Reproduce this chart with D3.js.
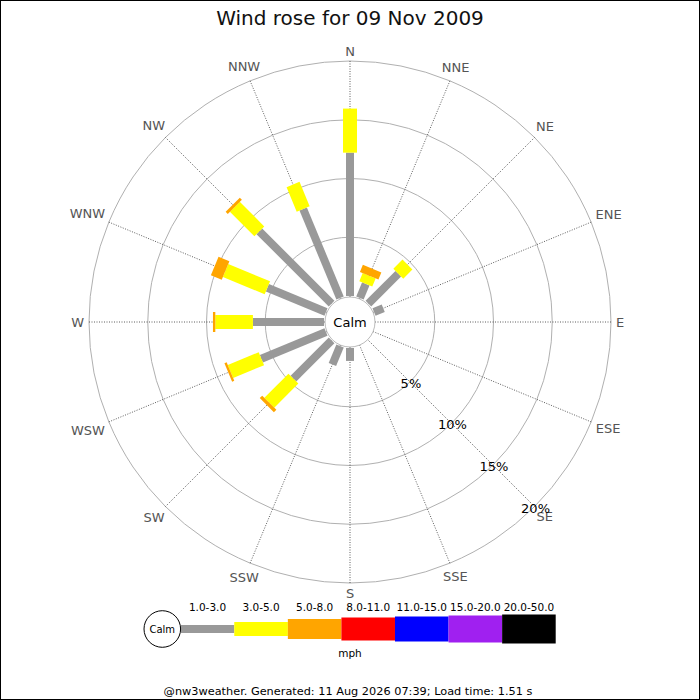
<!DOCTYPE html>
<html>
<head>
<meta charset="utf-8">
<script src="https://cdn.jsdelivr.net/npm/d3@7"></script>
<style>
  body { margin: 0; background: #fff; }
  text { font-family: "DejaVu Sans", sans-serif; }
</style>
</head>
<body>
<div id="chart"></div>
<script>
const directions = ['N', 'NNE', 'NE', 'ENE', 'E', 'ESE', 'SE', 'SSE',
  'S', 'SSW', 'SW', 'WSW', 'W', 'WNW', 'NW', 'NNW'];
const speedBins = ['1.0-3.0', '3.0-5.0', '5.0-8.0', '8.0-11.0', '11.0-15.0', '15.0-20.0', '20.0-50.0'];
// percent of time per direction, one array per speed band (mph)
const pct1to3 = [12.2, 1.3, 3.6, 0.85, 0, 0, 0, 0, 1.1, 1.7, 4.6, 5.95, 6.05, 5.4, 8.7, 8.2];
const pct3to5 = [3.75, 0.75, 1.1, 0, 0, 0, 0, 0, 0, 0, 2.9, 2.85, 3.2, 3.85, 2.95, 2.25];
const pct5to8 = [0, 0.65, 0, 0, 0, 0, 0, 0, 0, 0, 0.3, 0.2, 0.2, 1.0, 0.25, 0];
const ringTicks = [5, 10, 15, 20];
const title = 'Wind rose for 09 Nov 2009';
const footer = '@nw3weather. Generated: 11 Aug 2026 07:39; Load time: 1.51 s';

const binColors = ['#999999', '#ffff00', '#ffa500', '#ff0000', '#0000ff', '#a020f0', '#000000'];
const binWidths = [8, 14, 20, 23, 25, 27, 29];

const W = 700, H = 700;
const cx = 350, cy = 322;
const calmR = 25;

const svg = d3.select('#chart').append('svg')
  .attr('width', W)
  .attr('height', H);

svg.append('rect')
  .attr('x', 0.5).attr('y', 0.5)
  .attr('width', W - 1).attr('height', H - 1)
  .attr('fill', '#fff')
  .attr('stroke', '#000');

svg.append('text')
  .attr('x', cx).attr('y', 25)
  .attr('text-anchor', 'middle')
  .style('font-size', '20px')
  .attr('fill', '#111')
  .text(title);

const r = d3.scaleLinear().domain([0, 20]).range([26, 261]);
const angle = d3.scalePoint().domain(directions).range([0, 337.5]);

const g = svg.append('g').attr('transform', `translate(${cx},${cy})`);

// rings
g.selectAll('circle.ring')
  .data(ringTicks)
  .enter()
  .append('circle')
  .attr('class', 'ring')
  .attr('r', d => r(d))
  .attr('fill', 'none')
  .attr('stroke', '#b0b0b0')
  .attr('stroke-width', 1);

// spokes
g.selectAll('line.spoke')
  .data(directions)
  .enter()
  .append('line')
  .attr('class', 'spoke')
  .attr('x1', d => calmR * Math.sin(angle(d) * Math.PI / 180))
  .attr('y1', d => -calmR * Math.cos(angle(d) * Math.PI / 180))
  .attr('x2', d => r(20) * Math.sin(angle(d) * Math.PI / 180))
  .attr('y2', d => -r(20) * Math.cos(angle(d) * Math.PI / 180))
  .attr('stroke', '#333')
  .attr('stroke-width', 0.8)
  .attr('stroke-dasharray', '1,1.5');

// direction labels
const R0 = 266;
g.selectAll('text.dir')
  .data(directions)
  .enter()
  .append('text')
  .attr('class', 'dir')
  .attr('text-anchor', 'middle')
  .attr('dominant-baseline', 'central')
  .style('font-size', '13px')
  .attr('fill', '#555')
  .text(d => d)
  .each(function (d) {
    const a = angle(d) * Math.PI / 180;
    const w = this.getComputedTextLength();
    const h = 10;
    const rr = R0 + (w / 2) * Math.abs(Math.sin(a)) + (h / 2) * Math.abs(Math.cos(a));
    d3.select(this)
      .attr('x', rr * Math.sin(a))
      .attr('y', -rr * Math.cos(a));
  });

// stacked bars
const series = [pct1to3, pct3to5, pct5to8];
const segs = [];
directions.forEach((d, i) => {
  let acc = 0;
  series.forEach((s, k) => {
    if (s[i] > 0) {
      segs.push({ dir: d, k, from: acc, to: acc + s[i] });
    }
    acc += s[i];
  });
});

g.selectAll('rect.seg')
  .data(segs)
  .enter()
  .append('rect')
  .attr('class', 'seg')
  .attr('transform', d => `rotate(${angle(d.dir)})`)
  .attr('x', d => -binWidths[d.k] / 2)
  .attr('y', d => -r(d.to))
  .attr('width', d => binWidths[d.k])
  .attr('height', d => r(d.to) - r(d.from))
  .attr('fill', d => binColors[d.k]);

// ring labels along SE
g.selectAll('text.ringlab')
  .data(ringTicks)
  .enter()
  .append('text')
  .attr('class', 'ringlab')
  .attr('x', d => r(d) * Math.SQRT1_2 + 1)
  .attr('y', d => r(d) * Math.SQRT1_2 + 1.5)
  .attr('text-anchor', 'middle')
  .attr('dominant-baseline', 'central')
  .style('font-size', '13px')
  .attr('fill', '#000')
  .text(d => `${d}%`);

// calm circle
g.append('circle')
  .attr('r', calmR)
  .attr('fill', '#fff')
  .attr('stroke', '#bbb');

g.append('text')
  .attr('text-anchor', 'middle')
  .attr('dominant-baseline', 'central')
  .style('font-size', '13px')
  .attr('fill', '#000')
  .text('Calm');

// legend
const legY = 629;
const legX = d3.scaleBand().domain(speedBins).range([180.7, 555.7]);

const leg = svg.append('g');

leg.selectAll('rect')
  .data(speedBins)
  .enter()
  .append('rect')
  .attr('x', d => legX(d))
  .attr('y', (d, i) => legY - binWidths[i] / 2)
  .attr('width', legX.bandwidth())
  .attr('height', (d, i) => binWidths[i])
  .attr('fill', (d, i) => binColors[i]);

leg.selectAll('text.bin')
  .data(speedBins)
  .enter()
  .append('text')
  .attr('class', 'bin')
  .attr('x', d => legX(d) + legX.bandwidth() / 2)
  .attr('y', 610.5)
  .attr('text-anchor', 'middle')
  .style('font-size', '10.5px')
  .attr('fill', '#000')
  .text(d => d);

leg.append('circle')
  .attr('cx', 162.3).attr('cy', legY)
  .attr('r', 18.3)
  .attr('fill', '#fff')
  .attr('stroke', '#000');

leg.append('text')
  .attr('x', 162.3).attr('y', legY)
  .attr('text-anchor', 'middle')
  .attr('dominant-baseline', 'central')
  .style('font-size', '10px')
  .attr('fill', '#000')
  .text('Calm');

leg.append('text')
  .attr('x', cx).attr('y', 657)
  .attr('text-anchor', 'middle')
  .style('font-size', '10.5px')
  .attr('fill', '#000')
  .text('mph');

svg.append('text')
  .attr('x', 348).attr('y', 695)
  .attr('text-anchor', 'middle')
  .style('font-size', '11.3px')
  .attr('fill', '#000')
  .text(footer);
</script>
</body>
</html>
